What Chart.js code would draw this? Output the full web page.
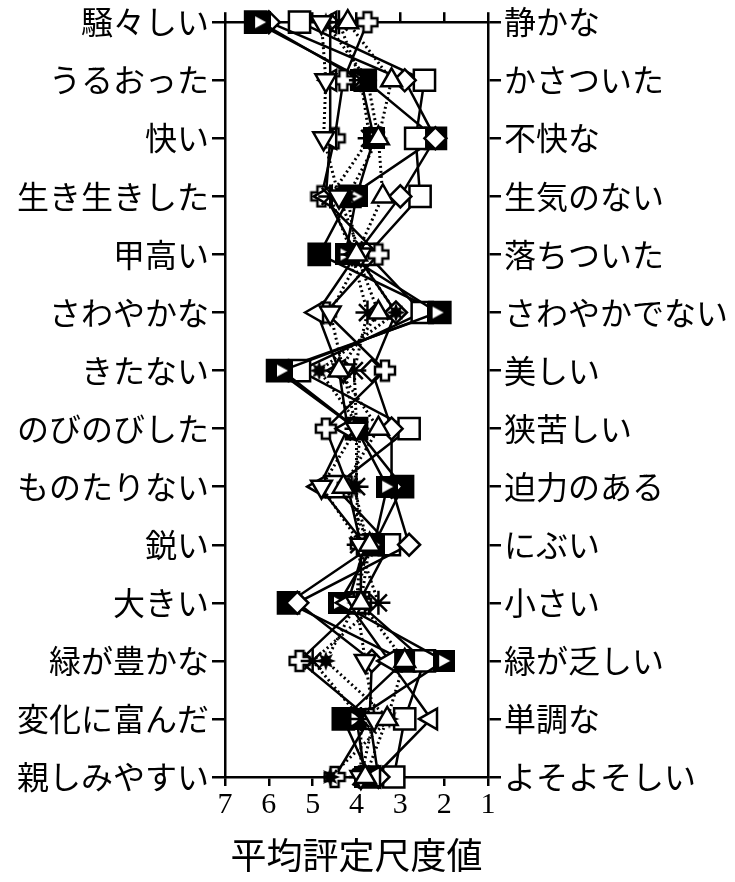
<!DOCTYPE html>
<html><head><meta charset="utf-8">
<script src="https://cdn.jsdelivr.net/npm/chart.js@4/dist/chart.umd.min.js"></script>
<style>html,body{margin:0;padding:0;background:#fff}</style>
</head><body>
<canvas id="c" width="735" height="882" style="width:735px;height:882px"></canvas>
<script>
const leftLabels = ['騒々しい','うるおった','快い','生き生きした','甲高い','さわやかな','きたない','のびのびした','ものたりない','鋭い','大きい','緑が豊かな','変化に富んだ','親しみやすい'];
const rightLabels = ['静かな','かさついた','不快な','生気のない','落ちついた','さわやかでない','美しい','狭苦しい','迫力のある','にぶい','小さい','緑が乏しい','単調な','よそよそしい'];
const xTicks = [7,6,5,4,3,2,1];
const axisTitle = '平均評定尺度値';

const sFilledSquare = [6.3,3.8,2.2,4.15,4.85,2.1,5.8,4.0,2.95,3.6,5.55,2.9,4.3,3.7];
const sOpenSquare   = [5.3,2.45,2.65,2.55,3.75,2.5,5.3,2.8,4.5,3.25,3.95,2.45,2.9,3.15];
const sDiamond      = [6.0,2.9,2.2,3.0,4.0,3.1,3.65,3.2,3.2,2.8,5.35,3.65,3.7,3.5];
const sTriRight     = [6.2,3.9,3.6,4.0,4.25,2.15,5.7,4.0,3.3,3.6,4.4,2.0,4.0,3.8];
const sTriUp        = [4.2,3.2,3.5,3.4,4.0,3.5,4.4,3.5,4.3,3.7,3.9,2.9,3.3,3.8];
const sTriDown      = [4.8,4.7,4.75,4.4,3.9,4.6,4.3,4.0,4.8,3.9,4.0,3.8,3.6,3.9];
const sTriLeft      = [4.6,4.6,4.6,4.7,4.0,4.9,4.4,4.2,4.85,3.8,4.2,3.25,2.3,3.6];
const sAsterisk     = [4.4,3.9,3.7,4.6,4.1,3.75,4.05,4.0,4.0,3.95,3.5,5.0,3.9,3.9];
const sCross        = [3.75,4.3,4.5,4.8,3.5,4.7,3.35,4.7,4.2,3.9,3.9,5.3,3.7,4.5];
const sBlob         = [4.7,3.75,3.5,4.2,4.0,3.1,4.85,3.9,4.05,3.75,4.0,4.7,3.25,4.6];

function crossImg(){
  const c=document.createElement('canvas');c.width=24;c.height=24;
  const g=c.getContext('2d');const a=8,b=16;
  g.beginPath();
  g.moveTo(a,2);g.lineTo(b,2);g.lineTo(b,a);g.lineTo(22,a);g.lineTo(22,b);g.lineTo(b,b);
  g.lineTo(b,22);g.lineTo(a,22);g.lineTo(a,b);g.lineTo(2,b);g.lineTo(2,a);g.lineTo(a,a);g.closePath();
  g.fillStyle='#fff';g.fill();g.lineWidth=2.5;g.strokeStyle='#000';g.stroke();
  return c;
}
function blobImg(){
  const c=document.createElement('canvas');c.width=22;c.height=22;
  const g=c.getContext('2d');g.beginPath();
  for(let i=0;i<16;i++){const r=i%2?5:10;const t=i*Math.PI/8;g.lineTo(11+r*Math.cos(t),11+r*Math.sin(t));}
  g.closePath();g.fillStyle='#000';g.fill();return c;
}
function triBoxImg(){
  const c=document.createElement('canvas');c.width=22;c.height=22;
  const g=c.getContext('2d');g.fillStyle='#000';g.fillRect(0,0,22,22);
  g.beginPath();g.moveTo(6,5);g.lineTo(17,11);g.lineTo(6,17);g.closePath();g.fillStyle='#fff';g.fill();
  return c;
}

function ds(data, style, opts){
  return Object.assign({
    data, borderColor:'#000', borderWidth:2.5, pointBorderColor:'#000', pointBorderWidth:2.5,
    pointBackgroundColor:'#fff', pointRadius:10, pointStyle:style, clip:false, tension:0
  }, opts||{});
}
const dotted = {borderDash:[2,3], borderWidth:3};

new Chart(document.getElementById('c'), {
  type:'line',
  data:{
    labels:leftLabels,
    datasets:[
      ds(sTriUp,'triangle',Object.assign({pointRadius:12},dotted)),
      ds(sTriDown,'triangle',Object.assign({pointRotation:180,pointRadius:12},dotted)),
      ds(sAsterisk,'star',Object.assign({pointRadius:12},dotted)),
      ds(sBlob,blobImg(),dotted),
      ds(sTriLeft,'triangle',{pointRotation:-90,pointRadius:12}),
      ds(sCross,crossImg()),
      ds(sTriRight,triBoxImg()),
      ds(sDiamond,'rectRot',{pointRadius:11}),
      ds(sOpenSquare,'rect',{pointRadius:15}),
      ds(sFilledSquare,'rect',{pointBackgroundColor:'#000',pointRadius:15})
    ]
  },
  options:{
    indexAxis:'y', responsive:false, animation:false,
    layout:{padding:0},
    plugins:{legend:{display:false},tooltip:{enabled:false}},
    scales:{
      x:{type:'linear',position:'bottom',min:1,max:7,reverse:true,
        afterBuildTicks:s=>{s.ticks=xTicks.map(v=>({value:v}));},
        ticks:{color:'#000',font:{family:'Liberation Serif',size:30},padding:1},
        grid:{drawOnChartArea:false,color:'#000',lineWidth:2.5,tickLength:9},
        border:{display:true,color:'#000',width:2.5},
        title:{display:true,text:axisTitle,color:'#000',font:{family:'Noto Sans CJK JP',size:36},padding:{top:0,bottom:5}},
        afterFit:s=>{s.height=105;}
      },
      x2:{type:'linear',position:'top',min:1,max:7,reverse:true,
        afterBuildTicks:s=>{s.ticks=xTicks.map(v=>({value:v}));},
        ticks:{display:false},
        grid:{drawOnChartArea:false,color:'#000',lineWidth:2.5,tickLength:10},
        border:{display:true,color:'#000',width:2.5},
        afterFit:s=>{s.height=20;}
      },
      y:{type:'category',position:'left',offset:false,
        ticks:{color:'#000',font:{family:'Noto Sans CJK JP',size:32},autoSkip:false,padding:3},
        grid:{drawOnChartArea:false,color:'#000',lineWidth:2.5,tickLength:13,offset:false},
        border:{display:true,color:'#000',width:2.5},
        afterFit:s=>{s.width=225;}
      },
      y2:{type:'category',position:'right',offset:false,labels:rightLabels,
        ticks:{color:'#000',font:{family:'Noto Sans CJK JP',size:32},autoSkip:false,padding:3},
        grid:{drawOnChartArea:false,color:'#000',lineWidth:2.5,tickLength:13,offset:false},
        border:{display:true,color:'#000',width:2.5},
        afterFit:s=>{s.width=247;}
      }
    }
  }
});
</script>
</body></html>
